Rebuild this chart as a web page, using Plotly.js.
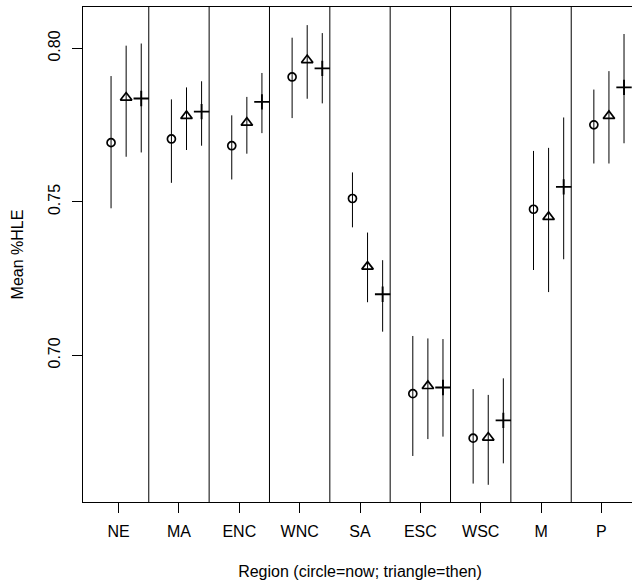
<!DOCTYPE html>
<html>
<head>
<meta charset="utf-8">
<script src="https://cdn.plot.ly/plotly-3.0.1.min.js"></script>
<style>html,body{margin:0;padding:0;overflow:hidden;background:#fff;}#chart{width:660px;height:580px;}</style>
</head>
<body>
<div id="chart"></div>
<script>
const regions = ["NE","MA","ENC","WNC","SA","ESC","WSC","M","P"];

const nowMean = [0.7693,0.7705,0.7683,0.7907,0.7511,0.6875,0.6730,0.7476,0.7751];
const nowLo   = [0.7479,0.7562,0.7573,0.7773,0.7417,0.6672,0.6582,0.7278,0.7625];
const nowHi   = [0.7910,0.7834,0.7782,0.8035,0.7596,0.7063,0.6890,0.7666,0.7866];

const thenMean = [0.7840,0.7780,0.7758,0.7962,0.7289,0.6900,0.6732,0.7451,0.7780];
const thenLo   = [0.7647,0.7669,0.7657,0.7836,0.7173,0.6727,0.6578,0.7206,0.7625];
const thenHi   = [0.8009,0.7873,0.7842,0.8076,0.7400,0.7055,0.6871,0.7676,0.7926];

const plusMean = [0.7837,0.7794,0.7826,0.7935,0.7199,0.6895,0.6788,0.7549,0.7873];
const plusLo   = [0.7661,0.7683,0.7724,0.7821,0.7077,0.6735,0.6648,0.7313,0.7691];
const plusHi   = [0.8016,0.7893,0.7920,0.8050,0.7310,0.7053,0.6925,0.7775,0.8047];

const idx = regions.map((r,i)=>i+1);

function mk(mean, lo, hi, off, symbol, size, lw) {
  return {
    type: "scatter", mode: "markers",
    x: idx.map(v=>v+off), y: mean,
    marker: {symbol: symbol, size: size, color: "#000", line: {color: "#000", width: lw}},
    error_y: {type: "data", symmetric: false,
      array: hi.map((h,i)=>h-mean[i]), arrayminus: mean.map((m,i)=>m-lo[i]),
      color: "#000", thickness: 1, width: 0},
    showlegend: false, hoverinfo: "x+y"
  };
}

const traces = [
  mk(nowMean, nowLo, nowHi, -0.125, "circle-open", 8, 1.7),
  mk(thenMean, thenLo, thenHi, 0.125, "triangle-up-open", 10, 1.7),
  mk(plusMean, plusLo, plusHi, 0.375, "cross-thin-open", 11, 1.9)
];

const shapes = [];
for (let i = 1; i < regions.length; i++) {
  shapes.push({type: "line", xref: "x", yref: "paper", x0: i+0.5, x1: i+0.5, y0: 0, y1: 1,
    line: {color: "#000", width: 1}});
}

const font = {family: "Liberation Sans, Arial, sans-serif", size: 16, color: "#000"};

const layout = {
  width: 660, height: 580,
  margin: {l: 83, r: 23, t: 7, b: 78},
  paper_bgcolor: "#fff", plot_bgcolor: "#fff",
  font: font,
  showlegend: false,
  xaxis: {
    range: [0.41, 9.59], tickmode: "array", tickvals: idx, ticktext: regions,
    ticks: "outside", ticklen: 10, tickwidth: 1, tickcolor: "#000",
    showgrid: false, zeroline: false, showline: true, linecolor: "#000", linewidth: 1, mirror: true,
    ticklabelstandoff: 5,
    title: {text: "Region (circle=now; triangle=then)", font: font, standoff: 26},
    automargin: false
  },
  yaxis: {
    range: [0.6522, 0.8135], tickmode: "array", tickvals: [0.70, 0.75, 0.80], ticktext: ["0.70","0.75","0.80"],
    tickangle: -90,
    ticks: "outside", ticklen: 10, tickwidth: 1, tickcolor: "#000",
    showgrid: false, zeroline: false, showline: true, linecolor: "#000", linewidth: 1, mirror: true,
    ticklabelstandoff: 6,
    title: {text: "Mean %HLE", font: font, standoff: 17},
    automargin: false
  },
  shapes: shapes
};

Plotly.newPlot("chart", traces, layout, {displayModeBar: false, staticPlot: true});
</script>
</body>
</html>
